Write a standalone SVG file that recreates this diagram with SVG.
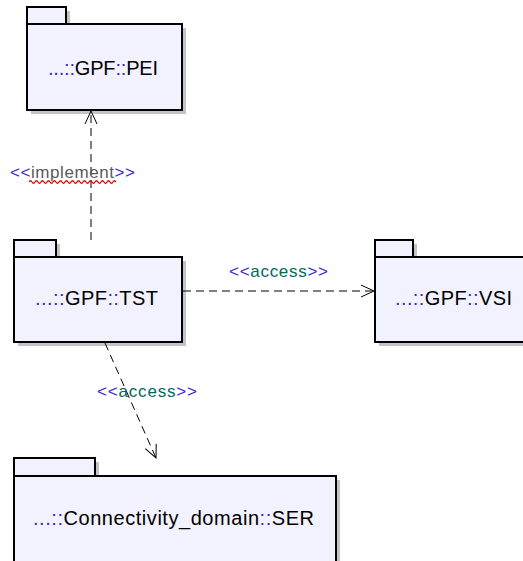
<svg xmlns="http://www.w3.org/2000/svg" width="523" height="561" viewBox="0 0 523 561">
<defs>
<style>
.sh{fill:#c4c4c4;stroke:none}
.pk{fill:#f2f2fe;stroke:#000;stroke-width:2}
.nm{font-family:"Liberation Sans",Arial,sans-serif;font-size:20px;fill:#000}
.sep{fill:#3c28c8}
.lb{font-family:"Liberation Sans",Arial,sans-serif;font-size:17px}
.st{fill:#3c28c8}
.ac{fill:#006a60}
.im{fill:#5a5a5a}
.cn{fill:none;stroke:#000;stroke-width:1;stroke-dasharray:8,5}
</style>
<marker id="ar" viewBox="-15 -8 17 16" refX="0" refY="0" markerWidth="17" markerHeight="16" markerUnits="userSpaceOnUse" orient="auto">
<path d="M -13 -6 L 0 0 L -13 6" fill="none" stroke="#000" stroke-width="1"/>
</marker>
</defs>
<rect width="523" height="561" fill="#fff"/>
<g id="PEI">
<rect class="sh" x="31" y="11" width="39" height="17"/>
<rect class="sh" x="31" y="28" width="155" height="86"/>
<rect class="pk" x="27" y="7" width="39" height="17"/>
<rect class="pk" x="27" y="24" width="155" height="86"/>
<text class="nm" x="48" y="75" textLength="110" lengthAdjust="spacing"><tspan class="sep">...::</tspan>GPF<tspan class="sep">::</tspan>PEI</text>
</g>
<g id="TST">
<rect class="sh" x="18" y="244" width="42" height="17"/>
<rect class="sh" x="18" y="261" width="168" height="85"/>
<rect class="pk" x="14" y="240" width="42" height="17"/>
<rect class="pk" x="14" y="257" width="168" height="85"/>
<text class="nm" x="35" y="305" textLength="123" lengthAdjust="spacing"><tspan class="sep">...::</tspan>GPF<tspan class="sep">::</tspan>TST</text>
</g>
<g id="VSI">
<rect class="sh" x="379" y="244" width="38" height="17"/>
<rect class="sh" x="379" y="261" width="160" height="85"/>
<rect class="pk" x="375" y="240" width="38" height="17"/>
<rect class="pk" x="375" y="257" width="160" height="85"/>
<text class="nm" x="395" y="305" textLength="117" lengthAdjust="spacing"><tspan class="sep">...::</tspan>GPF<tspan class="sep">::</tspan>VSI</text>
</g>
<g id="SER">
<rect class="sh" x="18" y="462" width="81" height="18"/>
<rect class="sh" x="18" y="480" width="322" height="90"/>
<rect class="pk" x="14" y="458" width="81" height="18"/>
<rect class="pk" x="14" y="476" width="322" height="95"/>
<text class="nm" x="33" y="525" textLength="281" lengthAdjust="spacing"><tspan class="sep">...::</tspan>Connectivity_domain<tspan class="sep">::</tspan>SER</text>
</g>
<g id="connectors">
<line class="cn" x1="91" y1="240" x2="91" y2="111" marker-end="url(#ar)"/>
<line class="cn" x1="183" y1="291" x2="374" y2="291" marker-end="url(#ar)"/>
<line class="cn" x1="105" y1="343" x2="156" y2="458" marker-end="url(#ar)"/>
<text class="lb" x="10" y="178" textLength="125" lengthAdjust="spacing"><tspan class="st">&lt;&lt;</tspan><tspan class="im">implement</tspan><tspan class="st">&gt;&gt;</tspan></text>
<path d="M29 182 q1.5 -2.5 3 0 t3 0 t3 0 t3 0 t3 0 t3 0 t3 0 t3 0 t3 0 t3 0 t3 0 t3 0 t3 0 t3 0 t3 0 t3 0 t3 0 t3 0 t3 0 t3 0 t3 0 t3 0 t3 0 t3 0 t3 0 t3 0 t3 0 t3 0 t3 0" fill="none" stroke="#e00000" stroke-width="1.3"/>
<text class="lb" x="229" y="277" textLength="99" lengthAdjust="spacing"><tspan class="st">&lt;&lt;</tspan><tspan class="ac">access</tspan><tspan class="st">&gt;&gt;</tspan></text>
<text class="lb" x="97" y="397" textLength="100" lengthAdjust="spacing"><tspan class="st">&lt;&lt;</tspan><tspan class="ac">access</tspan><tspan class="st">&gt;&gt;</tspan></text>
</g>
</svg>
